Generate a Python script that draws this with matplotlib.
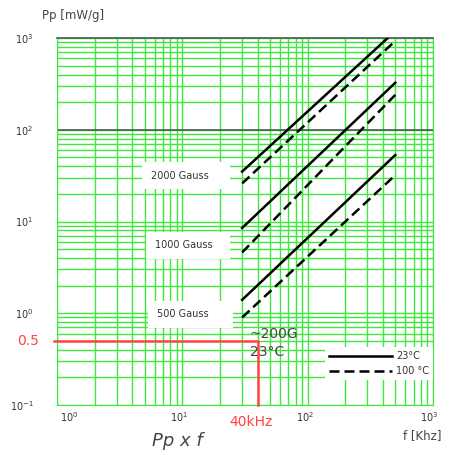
import numpy as np
import matplotlib
matplotlib.use('Agg')
import matplotlib.pyplot as plt
import matplotlib.transforms as mtransforms
from matplotlib.ticker import LogLocator, NullFormatter

# frequency range of the curves [kHz]
freq = [30, 500]
# specific power loss [mW/g]
p2000_23 = [35, 1190]
p2000_100 = [26, 930]
p1000_23 = [8.5, 325]
p1000_100 = [4.6, 240]
p500_23 = [1.4, 53]
p500_100 = [0.9, 32]

mark_f = 40      # kHz
mark_p = 0.5     # mW/g

xticks = [1, 10, 100, 1000]
xlabels = [r'$10^{0}$', r'$10^{1}$', r'$10^{2}$', r'$10^{3}$']
yticks = [0.1, 1, 10, 100, 1000]
ylabels = [r'$10^{-1}$', r'$10^{0}$', r'$10^{1}$', r'$10^{2}$', r'$10^{3}$']

green = '#3fe83f'
txt = '#333333'

fig = plt.figure(figsize=(4.52, 4.55), dpi=100)
ax = fig.add_axes([57/452, 50/455, 376/452, 367/455])
ax.set_xscale('log')
ax.set_yscale('log')
ax.set_xlim(1, 1000)
ax.set_ylim(0.1, 1000)

for a in (ax.xaxis, ax.yaxis):
    a.set_major_locator(LogLocator(base=10, numticks=10))
    a.set_minor_locator(LogLocator(base=10, subs=np.arange(2, 10), numticks=10))
    a.set_minor_formatter(NullFormatter())
ax.grid(which='both', color=green, lw=1.0)
ax.set_axisbelow(True)
ax.tick_params(which='both', length=0)

ax.set_xticks(xticks)
ax.set_xticklabels(xlabels, fontsize=7, color=txt)
ax.set_yticks(yticks)
ax.set_yticklabels(ylabels, fontsize=7, color=txt)
ax.tick_params(axis='x', pad=4)
ax.tick_params(axis='y', pad=17)
shifts = [12, -3, -3, -4]
for lab, s in zip(ax.get_xticklabels(), shifts):
    lab.set_transform(lab.get_transform() + mtransforms.ScaledTranslation(s/100, 0, fig.dpi_scale_trans))

for sp in ['left', 'right', 'bottom']:
    ax.spines[sp].set_color(green)
ax.spines['top'].set_color('#555555')
ax.spines['top'].set_linewidth(1.2)
ax.axhline(100, color='#555555', lw=1.2, zorder=1)

# curves
ax.plot(freq, p2000_23, color='black', lw=1.8, zorder=4, label='23°C')
ax.plot(freq, p2000_100, color='black', lw=1.8, dashes=(4, 2), zorder=4, label='100 °C')
ax.plot(freq, p1000_23, color='black', lw=1.8, zorder=4)
ax.plot(freq, p1000_100, color='black', lw=1.8, dashes=(4, 2), zorder=4)
ax.plot(freq, p500_23, color='black', lw=1.8, zorder=4)
ax.plot(freq, p500_100, color='black', lw=1.8, dashes=(4, 2), zorder=4)

box = dict(boxstyle='square,pad=0.9', fc='white', ec='none')
ax.text(5.6, 31.6, '2000 Gauss    ', ha='left', va='center', fontsize=7, color=txt, bbox=box, zorder=3)
ax.text(6.0, 5.5, '1000 Gauss   ', ha='left', va='center', fontsize=7, color=txt, bbox=box, zorder=3)
ax.text(6.3, 0.975, '500 Gauss     ', ha='left', va='center', fontsize=7, color=txt, bbox=box, zorder=3)

leg = ax.legend(loc='lower right', bbox_to_anchor=(1, 25/367), fontsize=7, handlelength=6.5,
                frameon=True, fancybox=False, framealpha=1, edgecolor='none', borderaxespad=0,
                labelspacing=0.5, handletextpad=0.4)
for t in leg.get_texts():
    t.set_color(txt)

# red marker for the example point
ax.plot([0.95, mark_f, mark_f], [mark_p, mark_p, 0.1], color='#ff4444', lw=1.8, clip_on=False, zorder=5)
ax.text(-0.078, mark_p, '0.5', transform=ax.get_yaxis_transform(), ha='center', va='center',
        fontsize=10, color='#ff4444')
ax.text(23.7, -0.046, '40kHz', transform=ax.get_xaxis_transform(), ha='left', va='center',
        fontsize=10, color='#ff4444')
ax.text(34.4, 0.59, '~200G', ha='left', va='center', fontsize=10, color='#444444', zorder=5)
ax.text(34.4, 0.377, '23°C', ha='left', va='center', fontsize=10, color='#444444', zorder=5)

fig.text(42/452, 1 - 15/455, 'Pp [mW/g]', ha='left', va='center', fontsize=8.5, color='#444444')
fig.text(403/452, 1 - 436/455, 'f [Khz]', ha='left', va='center', fontsize=8.5, color='#444444')
fig.text(152/452, 1 - 441/455, 'Pp x f', ha='left', va='center', fontsize=13, style='italic', color='#444444')

fig.savefig('out.png', dpi=100)
